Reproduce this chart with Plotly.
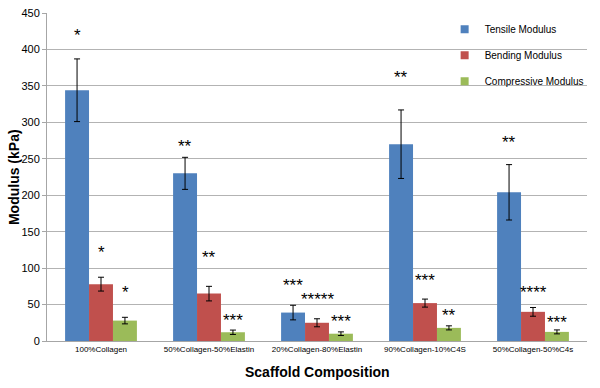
import plotly.graph_objects as go

categories = ["100%Collagen", "50%Collagen-50%Elastin", "20%Collagen-80%Elastin",
              "90%Collagen-10%C4S", "50%Collagen-50%C4s"]
series_names = ["Tensile Modulus", "Bending Modulus", "Compressive Modulus"]
tensile = [344, 230, 39, 270, 204]
tensile_err = [43, 22, 10, 47, 38]
bending = [78, 65, 25, 52, 40]
bending_err = [9.5, 10, 5.5, 5.5, 6]
compressive = [28, 12, 10, 18, 12.5]
compressive_err = [4.5, 3, 2.5, 2.8, 2.7]
colors = ["#4f81bd", "#c0504d", "#9bbb59"]

# significance markers: (text, y position in kPa)
tensile_sig = [("*", 419), ("**", 267), ("***", 76), ("**", 362), ("**", 272)]
bending_sig = [("*", 121), ("**", 115), ("*****", 57), ("***", 83), ("****", 67)]
compressive_sig = [("*", 67), ("***", 28), ("***", 27), ("**", 35), ("***", 26)]

FONT = "Liberation Sans, Arial, sans-serif"

fig = go.Figure()
for name, vals, errs, col in zip(series_names, [tensile, bending, compressive],
                                 [tensile_err, bending_err, compressive_err], colors):
    fig.add_trace(go.Bar(
        x=categories, y=vals, name=name, showlegend=False,
        marker=dict(color=col, line=dict(width=0)),
        error_y=dict(type="data", array=errs, color="black", thickness=1, width=3),
    ))
# legend entries with small square swatches
for name, col in zip(series_names, colors):
    fig.add_trace(go.Scatter(
        x=[None], y=[None], mode="markers", name=name, legendgroup=name,
        marker=dict(symbol="square", size=8, color=col),
    ))

shifts = [-24, 0, 24]
for sigs, sh in zip([tensile_sig, bending_sig, compressive_sig], shifts):
    for cat, (txt, yy) in zip(categories, sigs):
        fig.add_annotation(x=cat, y=yy, text=txt, showarrow=False, xshift=sh,
                           font=dict(size=17, color="black", family=FONT))

# axis titles
fig.add_annotation(xref="paper", yref="paper", x=0.5, y=-0.094, xanchor="center",
                   yanchor="middle", text="<b>Scaffold Composition</b>", showarrow=False,
                   font=dict(size=14, color="black", family=FONT))
fig.add_annotation(xref="paper", yref="paper", x=-0.061, y=0.5, xanchor="center",
                   yanchor="middle", textangle=-90,
                   text="<b>Modulus (kPa)</b>", showarrow=False,
                   font=dict(size=14, color="black", family=FONT))

# white legend backdrop (covers gridlines behind legend)
fig.add_shape(type="rect", xref="paper", yref="paper", x0=0.789, x1=1.0,
              y0=0.70, y1=0.99, fillcolor="white", line=dict(width=0), layer="between")

fig.update_layout(
    width=600, height=388,
    margin=dict(l=47, r=12, t=13, b=47),
    paper_bgcolor="white", plot_bgcolor="white",
    font=dict(family=FONT, color="black"),
    barmode="group", bargap=0.335, bargroupgap=0,
    showlegend=True,
    legend=dict(x=0.735, y=0.995, xanchor="left", yanchor="top",
                bgcolor="rgba(0,0,0,0)", font=dict(size=10, family=FONT),
                tracegroupgap=7, itemwidth=30),
    xaxis=dict(
        automargin=False,
        showgrid=False, showline=True, linecolor="#a6a6a6", linewidth=1,
        tickfont=dict(size=8), ticks="",
    ),
    yaxis=dict(
        automargin=False,
        range=[0, 450], dtick=50, showgrid=True, gridcolor="#b3b3b3", gridwidth=1,
        showline=True, linecolor="#a6a6a6", linewidth=1, ticks="outside",
        ticklen=4, tickcolor="#a6a6a6", tickfont=dict(size=11), zeroline=False,
    ),
)

fig.write_html("out.html", config={"displayModeBar": False},
               post_script="document.body.style.margin='0';document.body.style.overflow='hidden';")
